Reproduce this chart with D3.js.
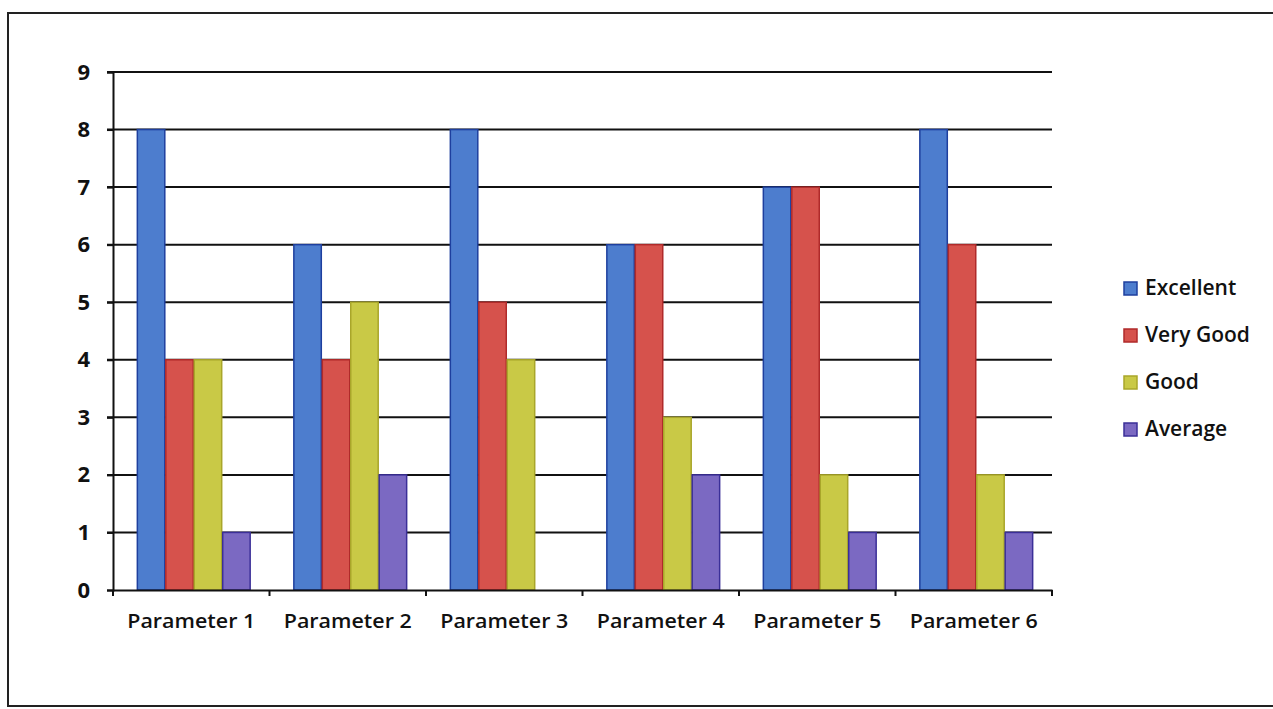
<!DOCTYPE html>
<html>
<head>
<meta charset="utf-8">
<script src="https://cdn.jsdelivr.net/npm/d3@7"></script>
<style>
  body { margin: 0; background: #fff; }
  svg { display: block; }
  .axis text { font-family: "Open Sans", sans-serif; fill: #111; }
</style>
</head>
<body>
<svg id="chart"></svg>
<script>
// chart data
const categories = ["Parameter 1", "Parameter 2", "Parameter 3", "Parameter 4", "Parameter 5", "Parameter 6"];
const seriesNames = ["Excellent", "Very Good", "Good", "Average"];
const excellent = [8, 6, 8, 6, 7, 8];
const veryGood = [4, 4, 5, 6, 7, 6];
const good = [4, 5, 4, 3, 2, 2];
const average = [1, 2, 0, 2, 1, 1];
const yTicks = [0, 1, 2, 3, 4, 5, 6, 7, 8, 9];

const seriesValues = [excellent, veryGood, good, average];
const fills = ["#4d7dce", "#d6524c", "#c9c946", "#7b69c2"];
const strokes = ["#1e3f9e", "#b02a2a", "#a9a62a", "#3b2f98"];

const width = 1273, height = 709;
const margin = { top: 72, left: 113, right: 221, bottom: 119 };
const innerW = width - margin.left - margin.right;
const innerH = height - margin.top - margin.bottom;

const svg = d3.select("#chart").attr("width", width).attr("height", height);

// scanned page border
svg.append("rect")
  .attr("x", 8).attr("y", 13)
  .attr("width", 1300).attr("height", 693)
  .attr("fill", "none").attr("stroke", "#222").attr("stroke-width", 2);

const g = svg.append("g").attr("transform", `translate(${margin.left},${margin.top})`);

const y = d3.scaleLinear().domain([0, 9]).range([innerH, 0]);
const x0 = d3.scaleBand().domain(categories).range([0, innerW]).paddingInner(0).paddingOuter(0);
const x1 = d3.scaleBand().domain(seriesNames).range([0, x0.bandwidth()]).paddingInner(0).paddingOuter(0.75);

// gridlines
g.append("g")
  .selectAll("line")
  .data(yTicks.filter(d => d > 0))
  .join("line")
  .attr("x1", -6).attr("x2", innerW)
  .attr("y1", d => y(d)).attr("y2", d => y(d))
  .attr("stroke", "#111").attr("stroke-width", 2);

// bars
const groups = g.selectAll(".grp")
  .data(categories)
  .join("g")
  .attr("class", "grp")
  .attr("transform", d => `translate(${x0(d) + 2},0)`);

groups.selectAll("rect")
  .data((c, i) => seriesNames.map((s, j) => ({ s, j, v: seriesValues[j][i] })))
  .join("rect")
  .filter(d => d.v > 0)
  .attr("x", d => x1(d.s) + 1)
  .attr("y", d => y(d.v))
  .attr("width", x1.bandwidth() - 1)
  .attr("height", d => innerH - y(d.v))
  .attr("fill", d => fills[d.j])
  .attr("stroke", d => strokes[d.j])
  .attr("stroke-width", 1.5);

// y axis
const yAxis = g.append("g").attr("class", "axis")
  .call(d3.axisLeft(y).tickValues(yTicks).tickSize(6).tickPadding(17));
yAxis.select(".domain").attr("stroke", "#111").attr("stroke-width", 2);
yAxis.selectAll(".tick line").attr("stroke", "#111").attr("stroke-width", 2);
yAxis.selectAll("text").style("font-size", "22px").style("font-weight", "bold");

// x axis
const xAxis = g.append("g").attr("class", "axis")
  .attr("transform", `translate(0,${innerH})`)
  .call(d3.axisBottom(x0).tickSize(0).tickPadding(24));
xAxis.select(".domain").attr("stroke", "#111").attr("stroke-width", 2);
xAxis.selectAll("text").style("font-size", "20px").style("font-weight", "600")
  .attr("textLength", 128).attr("lengthAdjust", "spacingAndGlyphs");

// category boundary ticks
g.append("g")
  .selectAll("line")
  .data(d3.range(categories.length + 1))
  .join("line")
  .attr("x1", i => i * x0.bandwidth()).attr("x2", i => i * x0.bandwidth())
  .attr("y1", innerH).attr("y2", innerH + 6)
  .attr("stroke", "#111").attr("stroke-width", 2);

// legend
const legend = svg.append("g").attr("transform", "translate(1124,282)");
const items = legend.selectAll("g")
  .data(seriesNames)
  .join("g")
  .attr("transform", (d, i) => `translate(0,${i * 47})`);
items.append("rect")
  .attr("width", 13).attr("height", 13)
  .attr("fill", (d, i) => fills[i])
  .attr("stroke", (d, i) => strokes[i]).attr("stroke-width", 1.5);
items.append("text")
  .attr("x", 21).attr("y", 7)
  .attr("dominant-baseline", "middle")
  .style("font-family", "'Open Sans', sans-serif")
  .style("font-size", "21px")
  .style("font-weight", "600")
  .style("fill", "#111")
  .text(d => d);
</script>
</body>
</html>
